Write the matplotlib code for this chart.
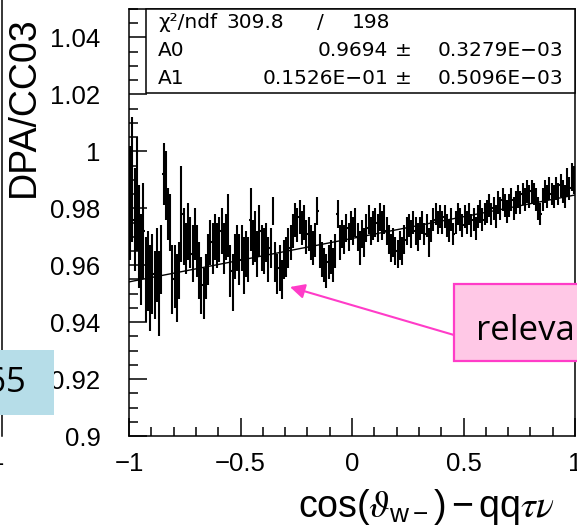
import numpy as np
import matplotlib
matplotlib.use("Agg")
import matplotlib.pyplot as plt
from matplotlib.patches import Rectangle, FancyArrowPatch
from matplotlib.lines import Line2D
from matplotlib.ticker import MultipleLocator, FixedLocator, FuncFormatter

# ---- data: ratio DPA/CC03 in 200 bins of cos(theta_w-) ----
x_lo, x_hi, n_bins = -1.0, 1.0, 200

ratio = [
    # -1.0 .. -0.9
    0.982, 0.990, 0.976, 0.985, 0.970, 0.962, 0.972, 0.955, 0.958, 0.952,
    # -0.9 .. -0.8
    0.957, 0.953, 0.960, 0.950, 0.962, 0.992, 0.988, 0.978, 0.975, 0.955,
    # -0.8 .. -0.7
    0.956, 0.952, 0.958, 0.978, 0.970, 0.966, 0.972, 0.968, 0.964, 0.971,
    # -0.7 .. -0.6
    0.965, 0.958, 0.953, 0.950, 0.956, 0.962, 0.968, 0.966, 0.970, 0.967,
    # -0.6 .. -0.5
    0.969, 0.972, 0.966, 0.970, 0.974, 0.958, 0.954, 0.963, 0.966, 0.962,
    # -0.5 .. -0.4
    0.966, 0.960, 0.964, 0.962, 0.976, 0.968, 0.970, 0.964, 0.972, 0.966,
    # -0.4 .. -0.3
    0.965, 0.968, 0.962, 0.966, 0.979, 0.961, 0.957, 0.959, 0.955, 0.962,
    # -0.3 .. -0.2
    0.963, 0.966, 0.968, 0.972, 0.976, 0.974, 0.977, 0.973, 0.975, 0.970,
    # -0.2 .. -0.1
    0.971, 0.968, 0.966, 0.969, 0.979, 0.965, 0.962, 0.960, 0.958, 0.961,
    # -0.1 .. 0.0
    0.963, 0.960, 0.965, 0.978, 0.968, 0.971, 0.969, 0.973, 0.970, 0.974,
    # 0.0 .. 0.1
    0.972, 0.975, 0.970, 0.966, 0.971, 0.968, 0.973, 0.976, 0.972, 0.974,
    # 0.1 .. 0.2
    0.975, 0.973, 0.977, 0.974, 0.976, 0.972, 0.969, 0.966, 0.968, 0.965,
    # 0.2 .. 0.3
    0.964, 0.967, 0.965, 0.969, 0.972, 0.974, 0.971, 0.975, 0.972, 0.970,
    # 0.3 .. 0.4
    0.973, 0.975, 0.971, 0.974, 0.968, 0.972, 0.976, 0.978, 0.975, 0.977,
    # 0.4 .. 0.5
    0.975, 0.977, 0.974, 0.972, 0.976, 0.971, 0.975, 0.978, 0.976, 0.974,
    # 0.5 .. 0.6
    0.977, 0.975, 0.978, 0.974, 0.976, 0.973, 0.977, 0.979, 0.976, 0.978,
    # 0.6 .. 0.7
    0.979, 0.981, 0.978, 0.980, 0.977, 0.982, 0.980, 0.983, 0.981, 0.979,
    # 0.7 .. 0.8
    0.981, 0.983, 0.980, 0.982, 0.984, 0.982, 0.985, 0.983, 0.986, 0.984,
    # 0.8 .. 0.9
    0.986, 0.985, 0.983, 0.980, 0.978, 0.983, 0.986, 0.984, 0.987, 0.985,
    # 0.9 .. 1.0
    0.984, 0.987, 0.985, 0.988, 0.986, 0.984, 0.989, 0.987, 0.991, 0.990,
]

ratio_err = [
    0.020, 0.022, 0.018, 0.020, 0.018, 0.016, 0.017, 0.015, 0.014, 0.015,
    0.014, 0.012, 0.013, 0.015, 0.012, 0.011, 0.012, 0.009, 0.010, 0.012,
    0.011, 0.012, 0.010, 0.017, 0.010, 0.009, 0.010, 0.009, 0.010, 0.009,
    0.009, 0.010, 0.010, 0.009, 0.008, 0.009, 0.008, 0.009, 0.008, 0.008,
    0.008, 0.008, 0.009, 0.008, 0.011, 0.009, 0.010, 0.008, 0.008, 0.009,
    0.008, 0.010, 0.008, 0.008, 0.011, 0.008, 0.009, 0.008, 0.009, 0.008,
    0.008, 0.007, 0.008, 0.007, 0.005, 0.007, 0.007, 0.008, 0.007, 0.007,
    0.007, 0.007, 0.006, 0.006, 0.006, 0.006, 0.006, 0.006, 0.006, 0.006,
    0.006, 0.006, 0.006, 0.006, 0.005, 0.006, 0.006, 0.006, 0.006, 0.006,
    0.006, 0.006, 0.006, 0.005, 0.006, 0.005, 0.005, 0.005, 0.005, 0.005,
    0.005, 0.005, 0.005, 0.006, 0.005, 0.005, 0.005, 0.005, 0.005, 0.005,
    0.005, 0.005, 0.005, 0.005, 0.005, 0.005, 0.005, 0.005, 0.005, 0.005,
    0.005, 0.005, 0.005, 0.005, 0.005, 0.004, 0.005, 0.004, 0.005, 0.005,
    0.004, 0.004, 0.004, 0.004, 0.005, 0.004, 0.004, 0.004, 0.004, 0.004,
    0.004, 0.004, 0.004, 0.004, 0.004, 0.004, 0.004, 0.004, 0.004, 0.004,
    0.004, 0.004, 0.004, 0.004, 0.004, 0.004, 0.004, 0.004, 0.004, 0.004,
    0.004, 0.004, 0.004, 0.004, 0.004, 0.004, 0.004, 0.004, 0.004, 0.004,
    0.004, 0.004, 0.004, 0.004, 0.004, 0.004, 0.004, 0.004, 0.004, 0.004,
    0.004, 0.004, 0.004, 0.004, 0.004, 0.004, 0.004, 0.004, 0.004, 0.004,
    0.004, 0.004, 0.004, 0.004, 0.004, 0.004, 0.005, 0.004, 0.005, 0.005,
]

# linear fit parameters
fit_A0, fit_A0_err = 0.9694, 0.3279e-03
fit_A1, fit_A1_err = 0.1526e-01, 0.5096e-03
chi2, ndf = 309.8, 198

x_ticks = [-1, -0.5, 0, 0.5, 1]
y_ticks = [0.90, 0.92, 0.94, 0.96, 0.98, 1.00, 1.02, 1.04]

# ---- figure ----
W, H = 577, 526
fig = plt.figure(figsize=(W / 100, H / 100), dpi=100)
plt.rcParams["font.family"] = ["Liberation Sans", "DejaVu Sans"]
plt.rcParams["mathtext.fontset"] = "stix"


def fx(px):
    return px / W


def fy(py):
    return 1 - py / H


ax_l, ax_r, ax_t, ax_b = 129, 575, 9, 436
ax = fig.add_axes([fx(ax_l), fy(ax_b), fx(ax_r - ax_l), (ax_b - ax_t) / H])

edges = np.linspace(x_lo, x_hi, n_bins + 1)
centers = 0.5 * (edges[:-1] + edges[1:])
half_w = 0.5 * (edges[1] - edges[0])

ax.errorbar(centers, ratio, yerr=ratio_err, xerr=half_w, fmt="none",
            ecolor="black", elinewidth=1.5, capsize=0, zorder=3)

xf = np.array([x_lo, x_hi])
ax.plot(xf, fit_A0 + fit_A1 * xf, color="black", lw=1.0, zorder=4)

ax.set_xlim(x_lo, x_hi)
ax.set_ylim(0.90, 1.05)

ax.xaxis.set_major_locator(FixedLocator(x_ticks))
ax.xaxis.set_minor_locator(MultipleLocator(0.1))
ax.yaxis.set_major_locator(FixedLocator(y_ticks))
ax.yaxis.set_minor_locator(MultipleLocator(0.005))
ax.xaxis.set_major_formatter(FuncFormatter(lambda v, p: f"{v:g}".replace("-", "\u2212")))
ax.yaxis.set_major_formatter(FuncFormatter(lambda v, p: f"{v:g}"))

ax.tick_params(which="both", direction="in", top=False, right=False,
               width=1.1, color="black")
ax.tick_params(which="major", length=13)
ax.tick_params(which="minor", length=6.2)
ax.tick_params(axis="y", which="major", labelsize=18.5, pad=20.5)
ax.tick_params(axis="x", which="major", labelsize=18.5, pad=11.5)
for s in ax.spines.values():
    s.set_linewidth(1.1)

# axis titles
fig.text(fx(23.5), fy(107), "DPA/CC03", rotation=90, ha="center", va="center",
         fontsize=27)
fig.text(fx(298), fy(517),
         r"$\mathregular{cos(}\vartheta_{\mathregular{w-}}\mathregular{)-qq}\tau\nu$",
         ha="left", va="baseline", fontsize=27)

# statistics box
box_l, box_r, box_t, box_b = 146, 575, 9, 93
fig.add_artist(Rectangle((fx(box_l), fy(box_b)), fx(box_r - box_l), (box_b - box_t) / H,
                         transform=fig.transFigure, facecolor="white",
                         edgecolor="black", lw=1.1, zorder=5))
sfont = dict(fontsize=14.5, family=["DejaVu Sans"], zorder=6)
rows_y = [23, 51, 78]
fig.text(fx(158), fy(rows_y[0]), "\u03c7\u00b2/ndf", ha="left", va="center", **sfont)
fig.text(fx(284), fy(rows_y[0]), f"{chi2:.1f}", ha="right", va="center", **sfont)
fig.text(fx(320), fy(rows_y[0]), "/", ha="center", va="center", **sfont)
fig.text(fx(390), fy(rows_y[0]), f"{ndf}", ha="right", va="center", **sfont)


def sci(v):
    m, e = f"{v:.4E}".split("E")
    m = float(m) / 10
    return f"{m:.4f}E{int(e) + 1:+03d}".replace("-", "\u2212")


fig.text(fx(158), fy(rows_y[1]), "A0", ha="left", va="center", **sfont)
fig.text(fx(388), fy(rows_y[1]), f"{fit_A0:.4f}", ha="right", va="center", **sfont)
fig.text(fx(403), fy(rows_y[1]), "\u00b1", ha="center", va="center", **sfont)
fig.text(fx(563), fy(rows_y[1]), sci(fit_A0_err), ha="right", va="center", **sfont)
fig.text(fx(158), fy(rows_y[2]), "A1", ha="left", va="center", **sfont)
fig.text(fx(388), fy(rows_y[2]), sci(fit_A1), ha="right", va="center", **sfont)
fig.text(fx(403), fy(rows_y[2]), "\u00b1", ha="center", va="center", **sfont)
fig.text(fx(563), fy(rows_y[2]), sci(fit_A1_err), ha="right", va="center", **sfont)

# neighbouring panel edge on the far left
fig.add_artist(Line2D([fx(1.5), fx(1.5)], [fy(0), fy(ax_b)], color="black",
                      lw=1.1, transform=fig.transFigure, zorder=4))
fig.text(fx(4), fy(458), "1", ha="right", va="center", fontsize=18.5)

# callout boxes
fig.add_artist(Rectangle((fx(-10), fy(415)), fx(64), 65 / H, transform=fig.transFigure,
                         facecolor="#B6DDE8", edgecolor="none", zorder=7))
fig.text(fx(26), fy(383), "65", ha="right", va="center", fontsize=25,
         family=["Open Sans", "DejaVu Sans"], zorder=8)

fig.add_artist(Rectangle((fx(454), fy(361)), fx(180), 77 / H, transform=fig.transFigure,
                         facecolor="#FFC8E6", edgecolor="#FF3CC8", lw=1.6, zorder=7))
fig.text(fx(476), fy(340), "relevant", ha="left", va="baseline", fontsize=25,
         family=["Open Sans", "DejaVu Sans"], zorder=8)
fig.add_artist(FancyArrowPatch((fx(454), fy(335)), (fx(290), fy(287)),
                               transform=fig.transFigure, arrowstyle="-|>",
                               mutation_scale=22, color="#FF3CC8", lw=1.5,
                               shrinkA=0, shrinkB=0, zorder=7))

fig.savefig("out.png", dpi=100)
